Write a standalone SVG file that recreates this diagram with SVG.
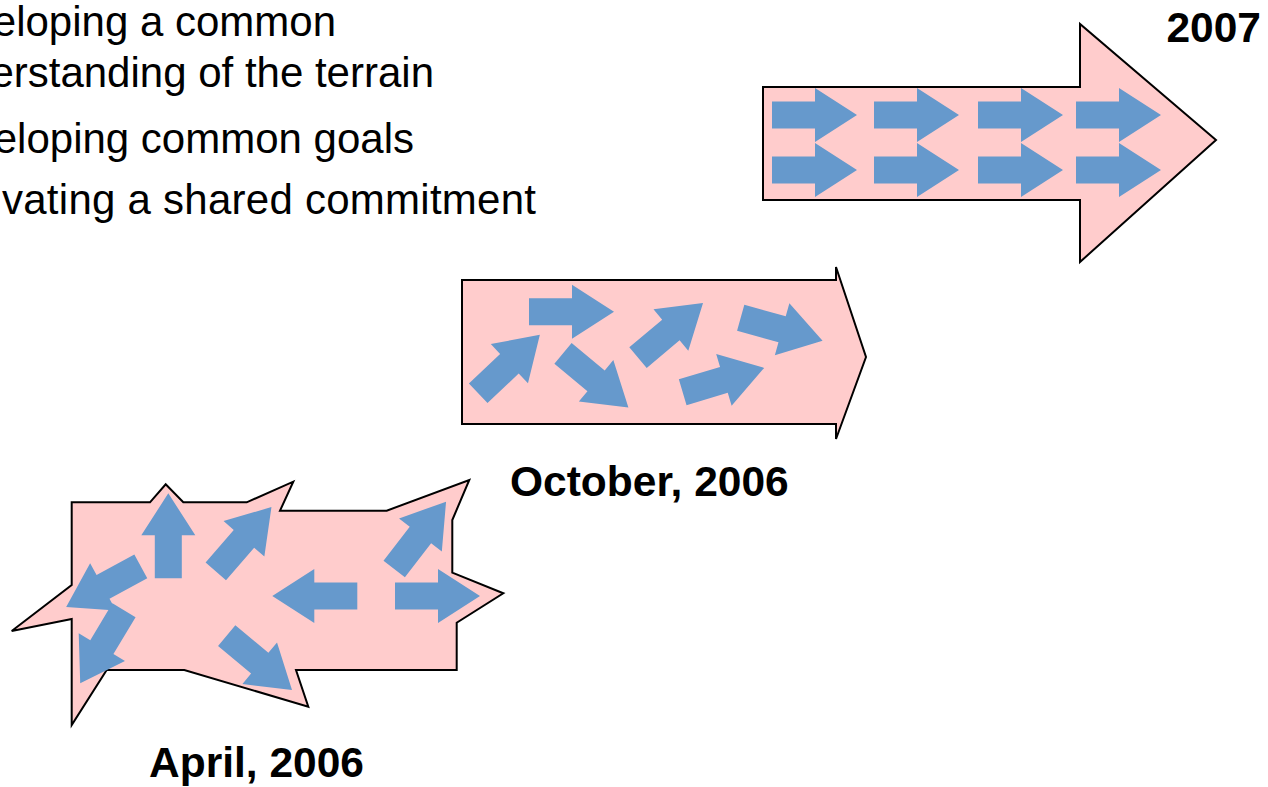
<svg xmlns="http://www.w3.org/2000/svg" xmlns:xlink="http://www.w3.org/1999/xlink" width="1268" height="787" viewBox="0 0 1268 787">
<style>
.body{fill:#FFCCCC;stroke:#000;stroke-width:2;stroke-linejoin:miter}
.ar{fill:#6699CC}
.txt{font-family:"Liberation Sans",Arial,sans-serif;font-size:42px;fill:#000}
.lbl{font-family:"Liberation Sans",Arial,sans-serif;font-size:42.5px;font-weight:bold;fill:#000}
</style>
<defs>
<path id="a" d="M0,-13.5H43V-27L85,0L43,27V13.5H0Z"/>
</defs>
<rect width="1268" height="787" fill="#fff"/>
<g id="goals-text">
<text class="txt" x="336" y="36" text-anchor="end">eloping a common</text>
<text class="txt" x="434" y="87" text-anchor="end">erstanding of the terrain</text>
<text class="txt" x="414" y="153" text-anchor="end">eloping common goals</text>
<text class="txt" x="2" y="214" textLength="534" lengthAdjust="spacing">vating a shared commitment</text>
</g>
<g id="stage-2007">
<polygon class="body" points="763,87 1080,87 1080,24 1216,140 1080,262 1080,200 763,200"/>
<g class="ar">
<use xlink:href="#a" transform="translate(772,115)"/>
<use xlink:href="#a" transform="translate(874,115)"/>
<use xlink:href="#a" transform="translate(978,115)"/>
<use xlink:href="#a" transform="translate(1076,115)"/>
<use xlink:href="#a" transform="translate(772,170)"/>
<use xlink:href="#a" transform="translate(874,170)"/>
<use xlink:href="#a" transform="translate(978,170)"/>
<use xlink:href="#a" transform="translate(1076,170)"/>
</g>
<text class="lbl" x="1261" y="42" text-anchor="end">2007</text>
</g>
<g id="stage-oct-2006">
<polygon class="body" points="462,280 836,280 836,267 866,357 836,439 836,424 462,424"/>
<g class="ar">
<use xlink:href="#a" transform="translate(478.2,393.3) rotate(-43.5)"/>
<use xlink:href="#a" transform="translate(529,311.7)"/>
<use xlink:href="#a" transform="translate(563,353.3) rotate(39.7)"/>
<use xlink:href="#a" transform="translate(638,357.7) rotate(-40.1)"/>
<use xlink:href="#a" transform="translate(682.7,392.2) rotate(-16.6)"/>
<use xlink:href="#a" transform="translate(740.7,317.8) rotate(15.6)"/>
</g>
<text class="lbl" x="510" y="496">October, 2006</text>
</g>
<g id="stage-apr-2006">
<polygon class="body" points="71.7,502.3 150,502.3 165.7,484.3 183.3,502.3 246.7,502.3 293.3,481.7 280,510.7 386.7,510.7 469.3,480 452.3,520 452.3,572.7 503.3,593.3 456.7,622.7 456.7,670 296,670 308.3,706.7 184.3,670 106.7,670 71.7,725 71.7,619 11.7,631 71.7,585"/>
<g class="ar">
<use xlink:href="#a" transform="translate(168.3,578.3) rotate(-90)"/>
<use xlink:href="#a" transform="translate(215.8,571.3) rotate(-49.1)"/>
<use xlink:href="#a" transform="translate(140.8,566.3) rotate(151.4)"/>
<use xlink:href="#a" transform="translate(124,610.3) rotate(121)"/>
<use xlink:href="#a" transform="translate(226.7,635.7) rotate(39.8)"/>
<use xlink:href="#a" transform="translate(357.3,596) rotate(180)"/>
<use xlink:href="#a" transform="translate(394.2,569) rotate(-52.4)"/>
<use xlink:href="#a" transform="translate(395,596)"/>
</g>
<text class="lbl" x="149" y="777">April, 2006</text>
</g>
</svg>
